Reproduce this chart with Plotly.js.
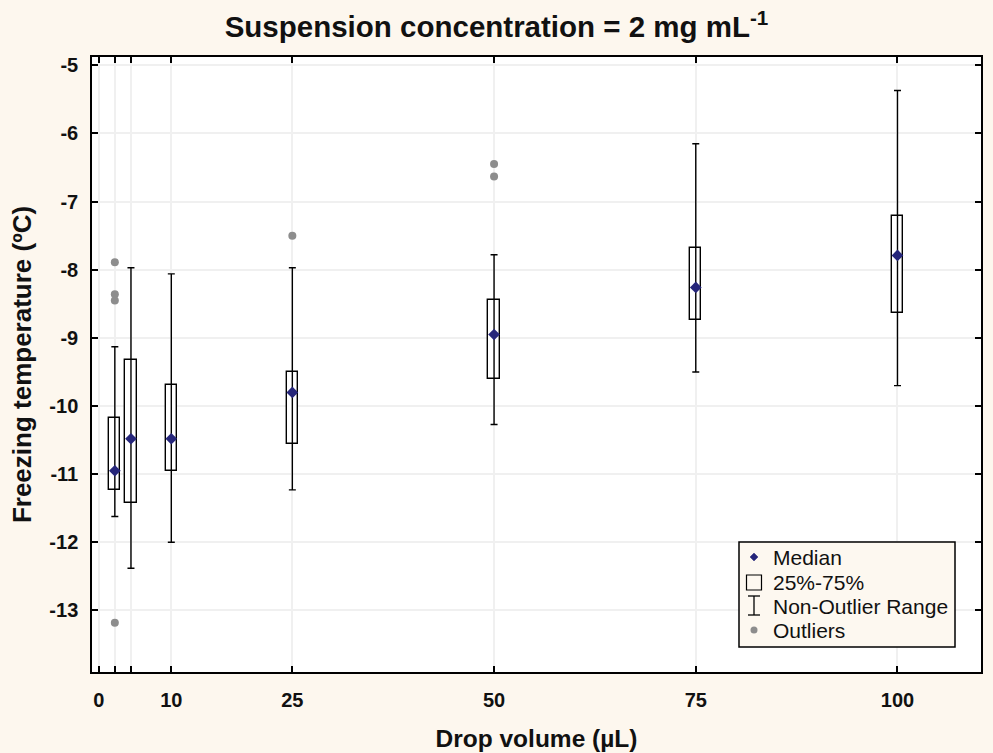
<!DOCTYPE html>
<html>
<head>
<meta charset="utf-8">
<script src="https://cdn.plot.ly/plotly-3.0.1.min.js"></script>
<style>
  html, body { margin: 0; padding: 0; background: #fdf7ee; }
  #chart { width: 993px; height: 753px; }
</style>
</head>
<body>
<div id="chart"></div>
<script>
// ---- data ----
const volumes      = [3, 5, 10, 25, 50, 75, 100];
const medians      = [-10.95, -10.48, -10.48, -9.80, -8.95, -8.26, -7.79];
const q1Values     = [-11.23, -11.43, -10.96, -10.55, -9.60, -8.74, -8.64];
const q3Values     = [-10.18, -9.32, -9.69, -9.50, -8.44, -7.68, -7.21];
const whiskerLow   = [-11.62, -12.38, -12.00, -11.23, -10.27, -9.50, -9.70];
const whiskerHigh  = [-9.13, -7.97, -8.06, -7.97, -7.78, -6.15, -5.37];
const outlierX     = [3, 3, 3, 3, 25, 50, 50];
const outlierY     = [-7.89, -8.36, -8.45, -13.18, -7.50, -6.45, -6.63];
const xTickVals    = [1, 10, 25, 50, 75, 100];
const xTickText    = ['0', '10', '25', '50', '75', '100'];
const xMinorVals   = [3, 5];
const yTickVals    = [-5, -6, -7, -8, -9, -10, -11, -12, -13];
const yTickText    = ['-5', '-6', '-7', '-8', '-9', '-10', '-11', '-12', '-13'];
const legendLabels = ['Median', '25%-75%', 'Non-Outlier Range', 'Outliers'];

// ---- styling ----
const FONT = '"Liberation Sans", Arial, sans-serif';
const PAPER = '#fdf7ee';
const NAVY = '#26267a';
const GREY = '#8d8d8d';
const GRID = '#f0f0f0';

const W = 993, H = 753;
const M = { l: 92, r: 12, t: 57, b: 81 };
const plotW = W - M.l - M.r, plotH = H - M.t - M.b;
const px = x => (x - M.l) / plotW;          // pixel -> paper x
const py = y => (H - M.b - y) / plotH;      // pixel -> paper y

const boxTrace = {
  type: 'bar',
  x: volumes,
  base: q1Values,
  y: q3Values.map((v, i) => v - q1Values[i]),
  width: 1.4,
  marker: { color: '#ffffff', line: { color: '#000000', width: 1.4 } },
  showlegend: false,
  hoverinfo: 'skip'
};

const rangeTrace = {
  type: 'scatter',
  mode: 'markers',
  x: volumes,
  y: medians,
  marker: { symbol: 'diamond', size: 9, color: NAVY },
  error_y: {
    type: 'data', symmetric: false,
    array: whiskerHigh.map((v, i) => v - medians[i]),
    arrayminus: medians.map((v, i) => v - whiskerLow[i]),
    color: '#000000', thickness: 1.4, width: 3.5
  },
  showlegend: false
};

const outlierTrace = {
  type: 'scatter',
  mode: 'markers',
  x: outlierX,
  y: outlierY,
  marker: { symbol: 'circle', size: 8, color: GREY },
  showlegend: false
};

// ---- custom legend (shapes + text) ----
const legL = 739, legR = 955, legT = 542, legB = 647;
const rowY = [557, 582, 606, 630];
const symX = 754, textX = 771;
const shapes = [
  { type: 'rect', xref: 'paper', yref: 'paper', x0: px(legL), x1: px(legR), y0: py(legB), y1: py(legT),
    line: { color: '#000', width: 1.5 }, fillcolor: '#fdf8f0', layer: 'above' },
  // diamond
  { type: 'path', xref: 'paper', yref: 'paper', layer: 'above',
    path: `M ${px(symX - 4)} ${py(rowY[0])} L ${px(symX)} ${py(rowY[0] - 4)} L ${px(symX + 4)} ${py(rowY[0])} L ${px(symX)} ${py(rowY[0] + 4)} Z`,
    fillcolor: NAVY, line: { color: NAVY, width: 0.5 } },
  // square
  { type: 'rect', xref: 'paper', yref: 'paper', layer: 'above',
    x0: px(symX - 7.5), x1: px(symX + 7.5), y0: py(rowY[1] + 8), y1: py(rowY[1] - 7),
    line: { color: '#000', width: 1.2 }, fillcolor: 'rgba(0,0,0,0)' },
  // I-beam
  { type: 'line', xref: 'paper', yref: 'paper', layer: 'above',
    x0: px(symX), x1: px(symX), y0: py(rowY[2] - 10), y1: py(rowY[2] + 9), line: { color: '#000', width: 1.3 } },
  { type: 'line', xref: 'paper', yref: 'paper', layer: 'above',
    x0: px(symX - 6), x1: px(symX + 6), y0: py(rowY[2] - 10), y1: py(rowY[2] - 10), line: { color: '#000', width: 1.3 } },
  { type: 'line', xref: 'paper', yref: 'paper', layer: 'above',
    x0: px(symX - 6), x1: px(symX + 6), y0: py(rowY[2] + 9), y1: py(rowY[2] + 9), line: { color: '#000', width: 1.3 } },
  // grey dot
  { type: 'circle', xref: 'paper', yref: 'paper', layer: 'above',
    x0: px(symX - 3.5), x1: px(symX + 3.5), y0: py(rowY[3] + 3.5), y1: py(rowY[3] - 3.5),
    fillcolor: GREY, line: { color: GREY, width: 0 } }
];
const annotations = legendLabels.map((t, i) => ({
  text: t, xref: 'paper', yref: 'paper', x: px(textX), y: py(rowY[i]),
  xanchor: 'left', yanchor: 'middle', showarrow: false,
  font: { family: FONT, size: 21, color: '#111' }
}));

const layout = {
  width: W, height: H,
  paper_bgcolor: PAPER,
  plot_bgcolor: '#ffffff',
  margin: M,
  showlegend: false,
  title: {
    text: 'Suspension concentration = 2 mg mL<sup>-1</sup>',
    font: { family: FONT, size: 29.5, color: '#111', weight: 'bold' },
    x: 0.5, xref: 'container', xanchor: 'center',
    y: 1 - 27 / H, yref: 'container', yanchor: 'middle'
  },
  xaxis: {
    range: [0.17, 110.35],
    tickmode: 'array', tickvals: xTickVals, ticktext: xTickText,
    ticks: 'inside', ticklen: 6, tickwidth: 1.5, tickcolor: '#000',
    minor: { tickmode: 'array', tickvals: xMinorVals, ticks: 'inside', ticklen: 6,
             tickwidth: 1.5, tickcolor: '#000', showgrid: true, gridcolor: GRID, gridwidth: 1.5 },
    showline: true, linecolor: '#000', linewidth: 1.5, mirror: 'ticks',
    showgrid: true, gridcolor: GRID, gridwidth: 1.5,
    zeroline: false,
    ticklabelstandoff: 9,
    tickfont: { family: FONT, size: 20, color: '#111', weight: 'bold' },
    title: { text: 'Drop volume (µL)', standoff: 20,
             font: { family: FONT, size: 24.5, color: '#111', weight: 'bold' } },
    automargin: false
  },
  yaxis: {
    range: [-13.903, -4.878],
    tickvals: yTickVals, ticktext: yTickText,
    ticks: 'inside', ticklen: 6, tickwidth: 1.5, tickcolor: '#000',
    showline: true, linecolor: '#000', linewidth: 1.5, mirror: 'ticks',
    showgrid: true, gridcolor: GRID, gridwidth: 1.5,
    zeroline: false,
    ticklabelstandoff: 8,
    tickfont: { family: FONT, size: 20, color: '#111', weight: 'bold' },
    title: { text: 'Freezing temperature (ºC)', standoff: 10,
             font: { family: FONT, size: 26, color: '#111', weight: 'bold' } },
    automargin: false
  },
  bargap: 0,
  shapes: shapes,
  annotations: annotations
};

Plotly.newPlot('chart', [boxTrace, rangeTrace, outlierTrace], layout, { displayModeBar: false, responsive: false });
</script>
</body>
</html>
